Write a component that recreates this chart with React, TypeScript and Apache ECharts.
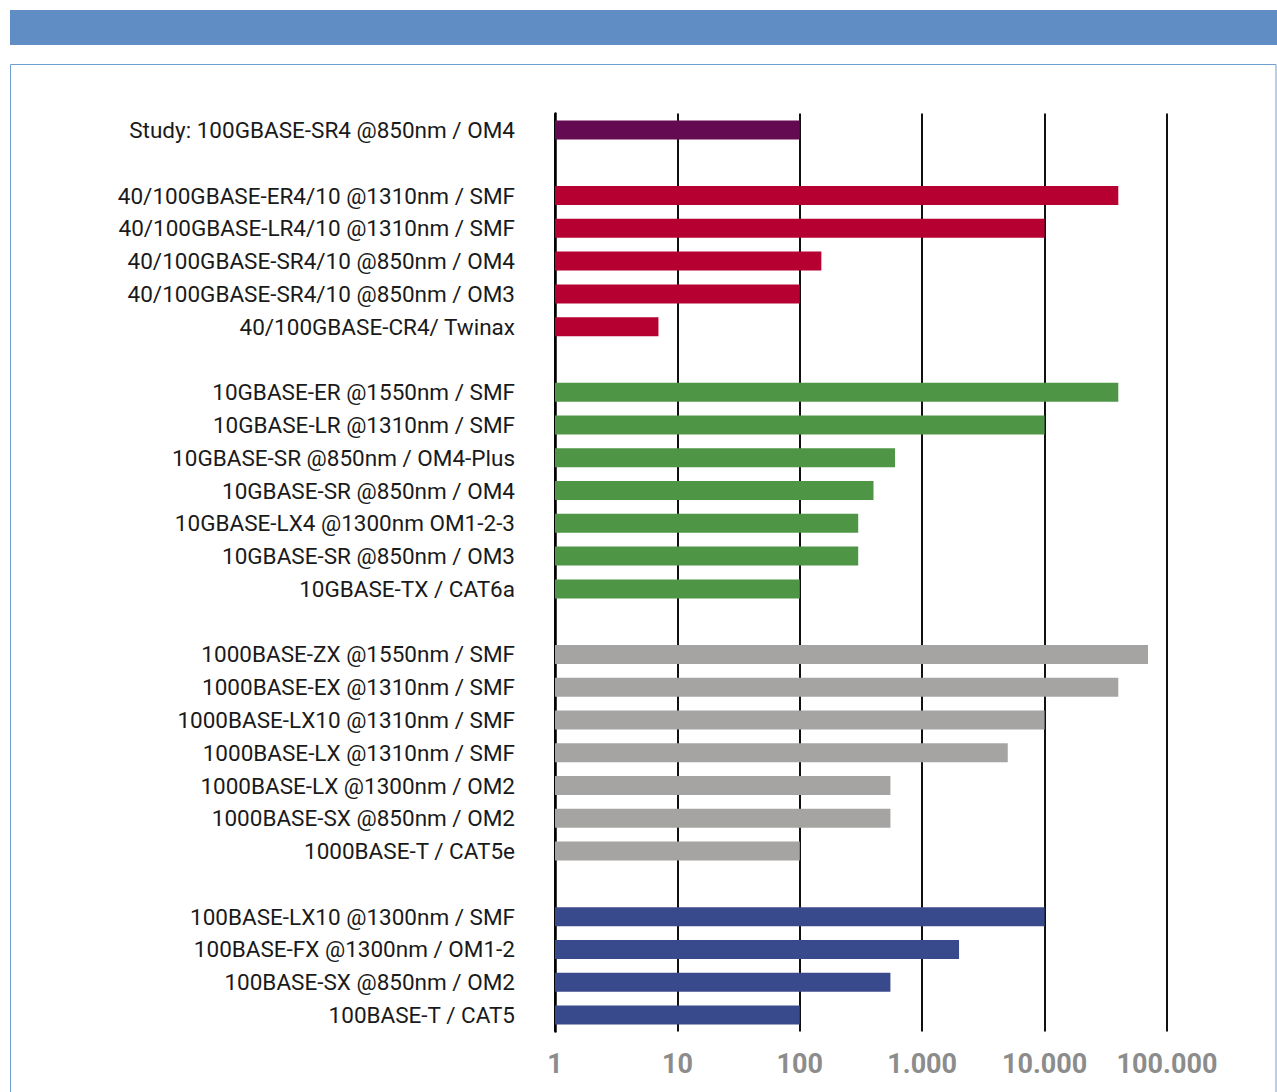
import React, { useEffect, useRef } from "react";
import * as echarts from "echarts";

const studyLabels = ["Study: 100GBASE-SR4 @850nm / OM4"];
const studyValues = [100];

const g40Labels = [
  "40/100GBASE-ER4/10 @1310nm / SMF",
  "40/100GBASE-LR4/10 @1310nm / SMF",
  "40/100GBASE-SR4/10 @850nm / OM4",
  "40/100GBASE-SR4/10 @850nm / OM3",
  "40/100GBASE-CR4/ Twinax",
];
const g40Values = [40000, 10000, 150, 100, 7];

const g10Labels = [
  "10GBASE-ER @1550nm / SMF",
  "10GBASE-LR @1310nm / SMF",
  "10GBASE-SR @850nm / OM4-Plus",
  "10GBASE-SR @850nm / OM4",
  "10GBASE-LX4 @1300nm OM1-2-3",
  "10GBASE-SR @850nm / OM3",
  "10GBASE-TX / CAT6a",
];
const g10Values = [40000, 10000, 600, 400, 300, 300, 100];

const g1000Labels = [
  "1000BASE-ZX @1550nm / SMF",
  "1000BASE-EX @1310nm / SMF",
  "1000BASE-LX10 @1310nm / SMF",
  "1000BASE-LX @1310nm / SMF",
  "1000BASE-LX @1300nm / OM2",
  "1000BASE-SX @850nm / OM2",
  "1000BASE-T / CAT5e",
];
const g1000Values = [70000, 40000, 10000, 5000, 550, 550, 100];

const g100Labels = [
  "100BASE-LX10 @1300nm / SMF",
  "100BASE-FX @1300nm / OM1-2",
  "100BASE-SX @850nm / OM2",
  "100BASE-T / CAT5",
];
const g100Values = [10000, 2000, 550, 100];

const groupColors = ["#640a52", "#b70032", "#4e9645", "#a5a4a2", "#384a8b"];
const xTickLabels = ["1", "10", "100", "1.000", "10.000", "100.000"];

export default function App() {
  const ref = useRef<HTMLDivElement>(null);
  useEffect(() => {
    if (!ref.current) return;
    const chart = echarts.init(ref.current, null, { renderer: "svg" });
    const groups = [
      [studyLabels, studyValues],
      [g40Labels, g40Values],
      [g10Labels, g10Values],
      [g1000Labels, g1000Values],
      [g100Labels, g100Values],
    ] as [string[], number[]][];
    const categories: string[] = [];
    const data: any[] = [];
    groups.forEach(([labels, values], gi) => {
      if (gi > 0) {
        categories.push(" ".repeat(gi));
        data.push(null);
      }
      labels.forEach((l, i) => {
        categories.push(l);
        data.push({ value: values[i], itemStyle: { color: groupColors[gi] } });
      });
    });
    chart.setOption({
      animation: false,
      backgroundColor: "#ffffff",
      graphic: [
        {
          type: "rect",
          shape: { x: 10, y: 10, width: 1267, height: 35 },
          style: { fill: "#5f8dc4" },
          silent: true,
        },
        {
          type: "rect",
          shape: { x: 10.5, y: 64.5, width: 1265.5, height: 1040 },
          style: { fill: "none", stroke: "#6f9ed3", lineWidth: 1 },
          silent: true,
        },
      ],
      grid: { left: 555, right: 110, top: 113.6, bottom: 60.6, containLabel: false },
      xAxis: {
        type: "log",
        logBase: 10,
        min: 1,
        max: 100000,
        axisLine: { show: false },
        axisTick: { show: false },
        splitLine: { show: true, lineStyle: { color: "#111111", width: 2 } },
        axisLabel: {
          margin: 19,
          fontFamily: "Roboto",
          fontWeight: "bold",
          fontSize: 27,
          color: "#8c8c8c",
          formatter: (v: number) => {
            const idx = Math.round(Math.log10(v));
            return xTickLabels[idx] ?? "";
          },
        },
      },
      yAxis: {
        type: "category",
        inverse: true,
        data: categories,
        axisLine: { show: true, lineStyle: { color: "#000000", width: 2.5 } },
        axisTick: { show: false },
        axisLabel: {
          margin: 40,
          fontFamily: "Roboto",
          fontSize: 22.5,
          color: "#1a1a1a",
        },
      },
      series: [
        {
          type: "bar",
          data,
          barWidth: 19,
          z: 1,
        },
      ],
    });
    return () => chart.dispose();
  }, []);
  return (
    <div
      ref={ref}
      style={{ position: "absolute", left: 0, top: 0, width: 1277, height: 1092 }}
    />
  );
}
